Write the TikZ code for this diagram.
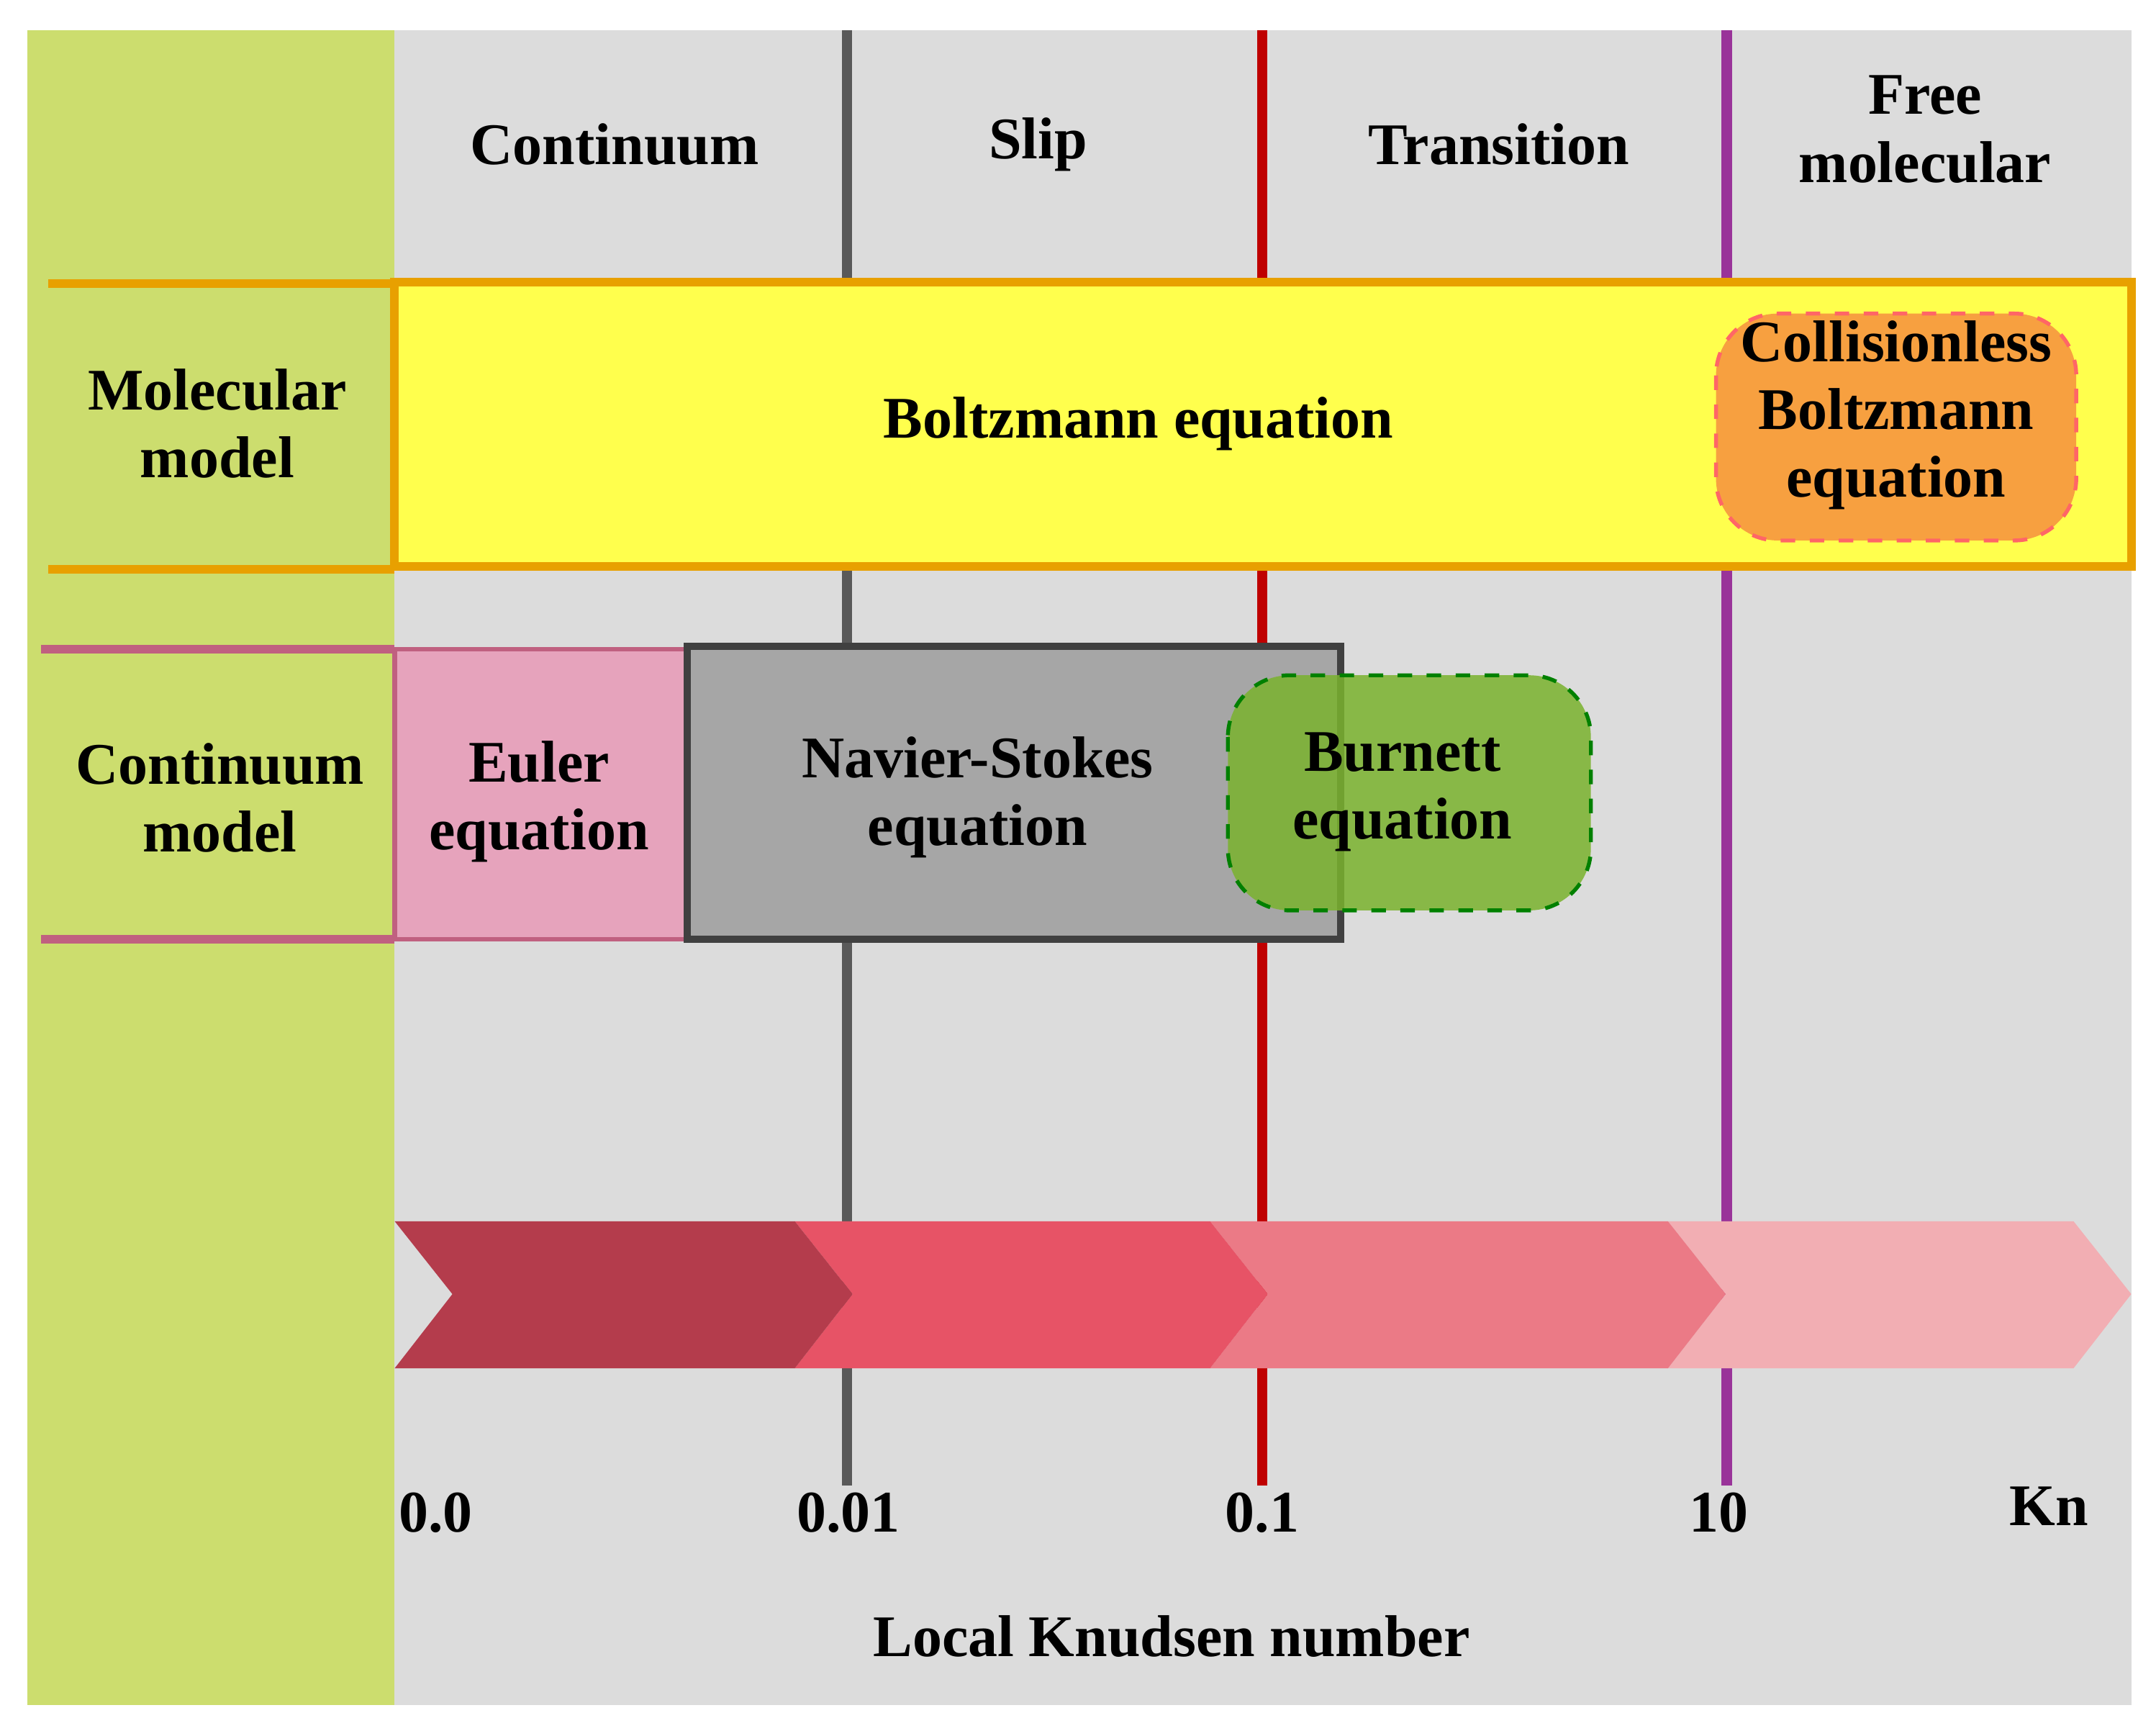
\documentclass[tikz,border=0pt]{standalone}
\usepackage{fontspec}
\setmainfont{Liberation Serif}
\usetikzlibrary{positioning}
\definecolor{panel}{HTML}{CCDD6E}
\definecolor{hatch}{HTML}{DCDCDC}
\definecolor{band}{HTML}{FFFF4D}
\definecolor{bandline}{HTML}{E8A000}
\definecolor{euler}{HTML}{E6A3BC}
\definecolor{eulerline}{HTML}{C06080}
\definecolor{ns}{HTML}{A6A6A6}
\definecolor{burnett}{HTML}{7AB22E}
\definecolor{clb}{HTML}{F7A040}
\definecolor{chA}{HTML}{B43C4C}
\definecolor{chB}{HTML}{E75366}
\definecolor{chC}{HTML}{EB7A86}
\definecolor{chD}{HTML}{F2AEB3}
\tikzstyle{lbl}=[font=\fontsize{12.2}{14}\selectfont\bfseries, align=center, inner sep=0pt]
\tikzstyle{regime}=[line width=2.2pt]
\tikzstyle{chev}=[draw=none]

\begin{document}
\begin{tikzpicture}[x=0.01cm, y=-0.01cm]
\useasboundingbox (0,0) rectangle (1568,1262);
% background
\fill[panel] (20,22) rectangle (287,1240);
\fill[hatch] (287,22) rectangle (1550,1240);
\draw[regime, gray!70!black] (616,22) -- (616,1080);
\draw[regime, red!75!black] (918,22) -- (918,1080);
\draw[regime, violet!80] (1256,22) -- (1256,1080);
% regimes
\node[lbl] (cont) at (447,105) {Continuum};
\node[lbl] (slip) at (755,105) {Slip};
\node[lbl] (trans) at (1090,105) {Transition};
\node[lbl] (free) at (1400,94) {Free\\molecular};
% molecular model
\draw[bandline, line width=1.8pt] (35,206) -- (287,206) (35,414) -- (287,414);
\fill[band, draw=bandline, line width=1.8pt] (287,205) rectangle (1550,412);
\node[lbl] (molmodel) at (158,308) {Molecular\\model};
\node[lbl] (boltz) at (828,308) {Boltzmann equation};
\fill[clb, draw=red!60, dashed, thick, rounded corners=0.45cm] (1248,228) rectangle (1510,393);
\node[lbl] (clbtext) at (1379,302) {Collisionless\\Boltzmann\\equation};
% continuum model
\draw[eulerline, line width=1.8pt] (30,472) -- (287,472) (30,683) -- (287,683);
\fill[euler, draw=eulerline, line width=1pt] (287,472) rectangle (500,683);
\fill[ns, draw=gray!50!black, line width=1.5pt] (500,470) rectangle (975,683);
\fill[burnett, fill opacity=0.85, draw=green!50!black, dashed, thick, rounded corners=0.45cm] (893,491) rectangle (1157,662);
\node[lbl] (contmodel) at (160,580) {Continuum\\model};
\node[lbl] (euler) at (392,583) {Euler\\equation};
\node[lbl] (navier) at (711,580) {Navier-Stokes\\equation};
\node[lbl] (burnetttext) at (1020,576) {Burnett\\equation};
% chevrons
\fill[chev, chD] (1213,888) -- (1508,888) -- (1550,941) -- (1508,995) -- (1213,995) -- (1255,941) -- cycle;
\fill[chev, chC] (880,888) -- (1213,888) -- (1255,941) -- (1213,995) -- (880,995) -- (922,941) -- cycle;
\fill[chev, chB] (578,888) -- (880,888) -- (922,941) -- (880,995) -- (578,995) -- (620,941) -- cycle;
\fill[chev, chA] (287,888) -- (578,888) -- (620,941) -- (578,995) -- (287,995) -- (329,941) -- cycle;
% axis
\node[lbl] (t0) at (317,1100) {0.0};
\node[lbl] (t1) at (617,1100) {0.01};
\node[lbl] (t2) at (918,1100) {0.1};
\node[lbl] (t3) at (1250,1100) {10};
\node[lbl] (kn) at (1490,1095) {Kn};
\node[lbl] (knudsen) at (852,1190) {Local Knudsen number};
\end{tikzpicture}
\end{document}
